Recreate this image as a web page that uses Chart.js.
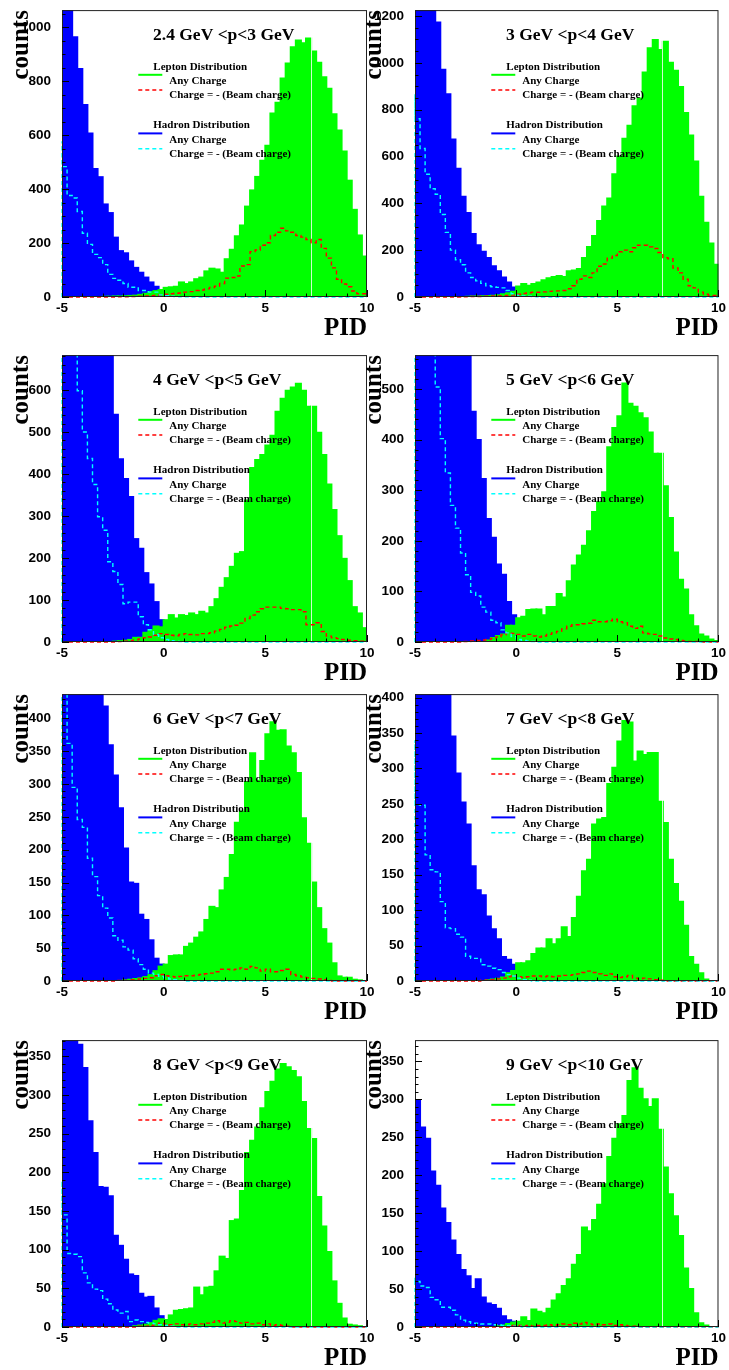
<!DOCTYPE html>
<html>
<head>
<meta charset="utf-8">
<script src="https://cdn.jsdelivr.net/npm/chart.js@4.4.1/dist/chart.umd.min.js"></script>
<style>
  body { margin: 0; background: #fff; width: 729px; height: 1370px; overflow: hidden; position: relative; }
  canvas { position: absolute; }
</style>
</head>
<body>
<script>
// momentum bins, one panel each
const titles = ['2.4 GeV <p<3 GeV', '3 GeV <p<4 GeV', '4 GeV <p<5 GeV', '5 GeV <p<6 GeV',
                '6 GeV <p<7 GeV', '7 GeV <p<8 GeV', '8 GeV <p<9 GeV', '9 GeV <p<10 GeV'];
const yMax   = [1063, 1225, 683, 567, 437, 405, 371, 378];
const yStep  = [200, 200, 100, 100, 50, 50, 50, 50];
const yMinor = [50, 50, 20, 20, 10, 10, 10, 10];
const xTicks = [-5, 0, 5, 10];

// PID histogram: 60 bins of 0.25 from -5 to 10
const BIN0 = -5, BINW = 0.25;
const cutX = 7.23;

// hadron distribution, any charge (blue, filled)
const hadronAny = [
  [1300,1080,962,845,711,606,474,444,343,311, 220,170,162,132,108,90,72,54,38,26, 12,8,5,3,2,1,1,0,0,0, 0,0,0,0,0,0,0,0,0,0, 0,0,0,0,0,0,0,0,0,0, 0,0,0,0,0,0,0,0,0,0],
  [1500,1400,1300,1250,1172,970,866,673,548,428, 359,269,221,193,166,131,110,83,62,41, 25,12,6,3,2,1,0,0,0,0, 0,0,0,0,0,0,0,0,0,0, 0,0,0,0,0,0,0,0,0,0, 0,0,0,0,0,0,0,0,0,0],
  [2200,2000,1800,1600,1400,1200,1050,900,800,720, 541,435,388,345,245,222,164,137,95,52, 28,12,6,3,2,1,0,0,0,0, 0,0,0,0,0,0,0,0,0,0, 0,0,0,0,0,0,0,0,0,0, 0,0,0,0,0,0,0,0,0,0],
  [2000,1700,1500,1300,1100,950,850,760,700,650, 600,455,399,322,243,206,153,133,79,53, 30,15,8,4,2,1,0,0,0,0, 0,0,0,0,0,0,0,0,0,0, 0,0,0,0,0,0,0,0,0,0, 0,0,0,0,0,0,0,0,0,0],
  [1400,1200,1000,850,720,600,520,470,418,359, 313,263,202,150,148,101,93,62,34,25, 12,6,3,2,1,0,0,0,0,0, 0,0,0,0,0,0,0,0,0,0, 0,0,0,0,0,0,0,0,0,0, 0,0,0,0,0,0,0,0,0,0],
  [1200,1000,850,720,600,520,450,345,293,252, 221,162,128,121,91,73,59,34,30,23, 16,11,6,3,2,1,0,0,0,0, 0,0,0,0,0,0,0,0,0,0, 0,0,0,0,0,0,0,0,0,0, 0,0,0,0,0,0,0,0,0,0],
  [480,430,390,365,335,266,225,181,180,169, 118,105,87,68,66,43,38,39,24,14, 9,5,3,2,1,0,0,0,0,0, 0,0,0,0,0,0,0,0,0,0, 0,0,0,0,0,0,0,0,0,0, 0,0,0,0,0,0,0,0,0,0],
  [299,263,248,205,186,156,137,114,95,75, 67,50,63,39,31,29,24,14,9,7, 5,3,2,1,0,0,0,0,0,0, 0,0,0,0,0,0,0,0,0,0, 0,0,0,0,0,0,0,0,0,0, 0,0,0,0,0,0,0,0,0,0]
];

// hadron distribution, charge = -(beam charge) (cyan, dashed)
const hadronOpp = [
  [577,483,376,367,317,236,195,158,146,120, 84,69,62,50,36,36,24,24,18,18, 8,5,3,2,1,1,0,0,0,0, 0,0,0,0,0,0,0,0,0,0, 0,0,0,0,0,0,0,0,0,0, 0,0,0,0,0,0,0,0,0,0],
  [866,761,634,524,462,439,352,276,200,159, 138,103,83,69,58,48,44,41,39,28, 14,8,5,3,2,1,0,0,0,0, 0,0,0,0,0,0,0,0,0,0, 0,0,0,0,0,0,0,0,0,0, 0,0,0,0,0,0,0,0,0,0],
  [1100,900,780,700,598,500,437,375,298,266, 191,168,137,91,95,95,60,41,29,18, 10,6,3,2,1,0,0,0,0,0, 0,0,0,0,0,0,0,0,0,0, 0,0,0,0,0,0,0,0,0,0, 0,0,0,0,0,0,0,0,0,0],
  [1200,1000,850,720,620,504,402,334,270,225, 176,133,98,91,69,59,43,38,24,18, 11,5,3,2,1,0,0,0,0,0, 0,0,0,0,0,0,0,0,0,0, 0,0,0,0,0,0,0,0,0,0, 0,0,0,0,0,0,0,0,0,0],
  [700,520,362,295,246,234,187,159,130,111, 96,69,62,52,47,34,25,18,12,10, 7,5,3,2,1,0,0,0,0,0, 0,0,0,0,0,0,0,0,0,0, 0,0,0,0,0,0,0,0,0,0, 0,0,0,0,0,0,0,0,0,0],
  [340,249,248,178,157,154,112,75,74,66, 62,35,32,32,23,21,18,16,12,9, 7,4,2,1,0,0,0,0,0,0, 0,0,0,0,0,0,0,0,0,0, 0,0,0,0,0,0,0,0,0,0, 0,0,0,0,0,0,0,0,0,0],
  [189,145,95,94,91,70,57,49,47,36, 30,22,18,20,7,9,7,6,5,4, 3,2,1,0,0,0,0,0,0,0, 0,0,0,0,0,0,0,0,0,0, 0,0,0,0,0,0,0,0,0,0, 0,0,0,0,0,0,0,0,0,0],
  [65,60,54,52,39,36,26,26,22,16, 9,7,5,5,4,4,3,3,2,2, 1,1,0,0,0,0,0,0,0,0, 0,0,0,0,0,0,0,0,0,0, 0,0,0,0,0,0,0,0,0,0, 0,0,0,0,0,0,0,0,0,0]
];

// lepton distribution, any charge (green, filled)
const leptonAny = [
  [0,0,0,0,0,0,0,0,1,1, 2,2,3,4,5,8,12,18,22,26, 34,36,38,54,48,54,66,72,95,105, 102,90,140,175,225,265,335,395,445,505, 560,680,720,810,865,925,950,940,958,910, 868,814,772,677,617,539,431,323,228,150],
  [0,0,0,0,0,0,0,0,0,0, 1,2,2,3,4,5,8,12,16,22, 45,55,48,55,62,72,80,85,90,85, 110,113,120,166,214,260,324,386,421,524, 600,676,731,814,848,959,1062,1097,1055,1090, 1000,966,897,786,690,579,428,317,228,138],
  [0,0,0,0,0,0,0,0,0,0, 1,2,3,5,10,10,22,28,37,35, 52,64,56,64,62,68,64,72,68,83, 102,129,152,179,210,214,337,414,433,445, 468,491,548,579,598,606,615,598,560,560, 498,445,375,314,252,198,145,83,68,33],
  [0,0,0,0,0,0,0,0,0,0, 0,0,0,0,3,8,12,15,32,32, 47,50,63,64,64,53,69,69,95,88, 120,151,171,190,219,257,276,296,385,423, 446,511,471,465,452,442,414,372,372,308, 245,177,123,104,53,31,15,11,5,2],
  [0,0,0,0,0,0,0,0,0,0, 0,0,1,2,3,4,6,9,15,22, 25,38,39,39,52,57,66,74,93,113, 111,138,157,192,241,258,303,347,305,335, 376,394,381,382,357,347,317,248,209,150, 111,79,57,27,7,5,5,2,1,0],
  [0,0,0,0,0,0,0,0,0,0, 0,0,0,0,1,2,3,5,11,14, 25,25,28,38,46,46,59,52,59,76, 62,89,119,155,171,221,228,230,278,301, 338,367,365,310,324,319,322,322,253,223, 171,137,112,78,34,23,11,2,0,0],
  [0,0,0,0,0,0,0,0,0,0, 0,0,0,0,1,2,3,5,8,10, 9,15,21,22,23,24,51,41,51,52, 72,91,88,137,139,176,225,241,258,283, 304,317,333,340,336,331,323,291,256,243, 168,130,97,59,30,11,3,2,1,0],
  [0,0,0,0,0,0,0,0,0,0, 0,0,0,0,0,0,1,2,4,6, 7,13,8,23,20,18,24,35,43,54, 63,82,95,131,126,141,161,188,224,248, 267,278,324,341,314,300,290,300,260,210, 175,146,120,77,50,18,5,2,0,0]
];

// lepton distribution, charge = -(beam charge) (red, dashed)
const leptonOpp = [
  [0,0,0,0,0,0,0,0,0,0, 0,0,1,1,2,2,3,4,5,6, 8,10,12,14,15,18,20,24,26,30, 35,40,50,70,72,78,115,120,168,174, 192,201,228,240,255,245,240,228,222,213, 201,213,180,144,108,66,48,38,22,12],
  [0,0,0,0,0,0,0,0,0,0, 1,1,2,2,3,3,4,5,6,7, 8,12,15,18,20,20,22,24,25,26, 28,35,48,76,90,83,103,131,141,166, 177,193,200,193,210,221,221,214,207,190, 168,163,124,103,76,48,39,21,12,7],
  [0,0,0,0,0,0,0,0,0,0, 0,0,1,2,3,5,7,10,12,16, 20,18,16,15,18,20,18,17,20,20, 22,26,30,35,38,40,45,56,64,72, 79,83,83,83,80,79,77,77,72,41, 41,46,25,14,10,8,6,4,3,2],
  [0,0,0,0,0,0,0,0,0,0, 1,1,2,3,4,5,7,10,14,18, 17,15,12,15,12,10,12,15,18,21, 26,31,34,34,36,37,43,40,40,42, 45,40,38,31,27,31,18,16,15,12, 8,6,5,3,2,1,1,0,0,0],
  [0,0,0,0,0,0,0,0,0,0, 0,0,1,1,2,2,3,4,5,8, 10,8,7,6,7,8,8,9,10,11, 12,14,18,18,17,18,20,18,22,20, 15,18,14,14,16,18,10,8,6,5, 4,3,2,1,0,0,0,0,0,0],
  [0,0,0,0,0,0,0,0,0,0, 0,0,0,0,1,1,2,3,4,6, 8,6,5,6,7,7,6,7,6,7, 8,8,9,10,12,14,12,10,8,10, 6,5,6,8,4,3,4,3,2,1, 0,0,0,0,0,0,0,0,0,0],
  [0,0,0,0,0,0,0,0,0,0, 0,0,0,0,0,0,1,1,2,3, 5,4,3,4,3,3,4,3,4,5, 6,8,5,6,8,7,5,6,4,5, 3,4,2,3,2,1,0,0,0,0, 0,0,0,0,0,0,0,0,0,0],
  [0,0,0,0,0,0,0,0,0,0, 0,0,0,0,0,0,0,0,0,0, 2,2,1,2,1,2,2,3,2,3, 4,3,5,4,6,4,3,4,3,4, 2,3,2,1,1,0,0,0,0,0, 0,0,0,0,0,0,0,0,0,0]
];

const GREEN = '#00ff00', BLUE = '#0000ff', RED = '#ff0000', CYAN = '#00ffff';

// page placement of the 2 x 4 grid
const colLeft = [0, 365], colWidth = [380, 364], axisW = [62, 50], padRight = [13, 10];
const rowTop = [-9, 336, 675, 1021];
const canvasH = 346;

function barPoints(vals) {
  return vals.map((v, i) => ({ x: BIN0 + BINW * (i + 0.5), y: v }));
}

function stepPoints(vals) {
  const end = BIN0 + BINW * vals.length;
  const pts = [{ x: BIN0, y: 0 }];
  vals.forEach((v, i) => pts.push({ x: BIN0 + BINW * i, y: v }));
  pts.push({ x: end, y: vals[vals.length - 1] });
  pts.push({ x: end, y: 0 });
  return pts;
}

Chart.defaults.font.family = '"Liberation Sans", Arial, sans-serif';

const deco = {
  id: 'deco',
  afterDatasetDraw(chart, args) {
    if (args.index !== 1) return;
    const { ctx, chartArea: a, scales: { x } } = chart;
    const px = Math.round(x.getPixelForValue(cutX)) + 0.5;
    ctx.save();
    ctx.strokeStyle = 'rgba(255,255,255,0.8)';
    ctx.lineWidth = 1;
    ctx.beginPath();
    ctx.moveTo(px, a.top);
    ctx.lineTo(px, a.bottom);
    ctx.stroke();
    ctx.restore();
  },
  afterDraw(chart, args, opts) {
    const p = opts.panel;
    const { ctx, chartArea: a, scales: { x, y } } = chart;
    const L = a.left, T = a.top;
    ctx.save();

    // frame
    ctx.strokeStyle = '#222';
    ctx.lineWidth = 1;
    ctx.strokeRect(a.left + 0.5, a.top + 0.5, a.width - 1, a.height - 1);

    // inward tick marks
    ctx.strokeStyle = '#000';
    ctx.beginPath();
    for (let v = -5; v <= 10; v += 1) {
      const px = Math.round(x.getPixelForValue(v)) + 0.5;
      const len = v % 5 === 0 ? 7 : 3.5;
      ctx.moveTo(px, a.bottom);
      ctx.lineTo(px, a.bottom - len);
    }
    for (let v = 0; v <= yMax[p]; v += yMinor[p]) {
      const py = Math.round(y.getPixelForValue(v)) + 0.5;
      const len = v % yStep[p] === 0 ? 7 : 3.5;
      ctx.moveTo(a.left, py);
      ctx.lineTo(a.left + len, py);
    }
    ctx.stroke();

    // title
    ctx.fillStyle = '#000';
    ctx.textAlign = 'left';
    ctx.textBaseline = 'alphabetic';
    ctx.font = 'bold 17.5px "Liberation Serif", serif';
    ctx.fillText(titles[p], L + 91, T + 30);

    // legend
    ctx.font = 'bold 11px "Liberation Serif", serif';
    const heads = [['Lepton Distribution', GREEN, RED, 0], ['Hadron Distribution', BLUE, CYAN, 58.6]];
    heads.forEach(([head, solid, dashed, dy]) => {
      ctx.fillText(head, L + 91.3, T + 59.7 + dy);
      ctx.fillText('Any Charge', L + 107.3, T + 74 + dy);
      ctx.fillText('Charge = - (Beam charge)', L + 107.3, T + 88.3 + dy);
      ctx.strokeStyle = solid;
      ctx.lineWidth = 2;
      ctx.setLineDash([]);
      ctx.beginPath();
      ctx.moveTo(L + 76.3, T + 64.7 + dy);
      ctx.lineTo(L + 100.3, T + 64.7 + dy);
      ctx.stroke();
      ctx.strokeStyle = dashed;
      ctx.lineWidth = 1.5;
      ctx.setLineDash([4, 3]);
      ctx.beginPath();
      ctx.moveTo(L + 76.3, T + 80 + dy);
      ctx.lineTo(L + 100.3, T + 80 + dy);
      ctx.stroke();
    });
    ctx.setLineDash([]);

    // axis titles
    ctx.font = 'bold 25px "Liberation Serif", serif';
    ctx.textAlign = 'right';
    ctx.fillText('PID', a.right, a.bottom + 38);
    ctx.save();
    ctx.translate(L - 34, T);
    ctx.rotate(-Math.PI / 2);
    ctx.fillText('counts', 0, 0);
    ctx.restore();

    ctx.restore();
  }
};
Chart.register(deco);

const tickFont = { family: '"Liberation Sans", Arial, sans-serif', weight: 'bold', size: 13.5 };

for (let p = 0; p < 8; p++) {
  const col = p % 2, row = Math.floor(p / 2);
  const cv = document.createElement('canvas');
  cv.width = colWidth[col];
  cv.height = canvasH;
  cv.style.left = colLeft[col] + 'px';
  cv.style.top = rowTop[row] + 'px';
  document.body.appendChild(cv);

  new Chart(cv.getContext('2d'), {
    type: 'bar',
    data: {
      datasets: [
        { type: 'bar', data: barPoints(hadronAny[p]), backgroundColor: BLUE, borderWidth: 0,
          barPercentage: 1, categoryPercentage: 1, inflateAmount: 1, grouped: false, order: 3, clip: 0 },
        { type: 'bar', data: barPoints(leptonAny[p]), backgroundColor: GREEN, borderWidth: 0,
          barPercentage: 1, categoryPercentage: 1, inflateAmount: 1, grouped: false, order: 2, clip: 0 },
        { type: 'line', data: stepPoints(leptonOpp[p]), borderColor: RED, borderWidth: 1.4,
          borderDash: [4, 3], pointRadius: 0, stepped: 'after', fill: false, order: 1,
          clip: { left: 2, right: 2, top: 0, bottom: 2 } },
        { type: 'line', data: stepPoints(hadronOpp[p]), borderColor: CYAN, borderWidth: 1.4,
          borderDash: [4, 3], pointRadius: 0, stepped: 'after', fill: false, order: 0,
          clip: { left: 2, right: 2, top: 0, bottom: 2 } }
      ]
    },
    options: {
      responsive: false,
      animation: false,
      events: [],
      layout: { padding: { top: 10, right: padRight[col], left: 0, bottom: 0 } },
      plugins: {
        legend: { display: false },
        tooltip: { enabled: false },
        deco: { panel: p }
      },
      scales: {
        x: {
          type: 'linear', min: -5, max: 10, offset: false,
          grid: { display: false, drawTicks: false },
          border: { display: false },
          afterBuildTicks: s => { s.ticks = xTicks.map(v => ({ value: v })); },
          ticks: { color: '#000', font: tickFont, padding: 3, maxRotation: 0, autoSkip: false,
                   callback: v => String(v) },
          afterFit: s => { s.height = 40; }
        },
        y: {
          type: 'linear', min: 0, max: yMax[p],
          grid: { display: false, drawTicks: false },
          border: { display: false },
          afterBuildTicks: s => {
            const t = [];
            for (let v = 0; v <= yMax[p]; v += yStep[p]) t.push({ value: v });
            s.ticks = t;
          },
          ticks: { color: '#000', font: tickFont, padding: 11, autoSkip: false,
                   callback: v => String(v) },
          afterFit: s => { s.width = axisW[col]; }
        }
      }
    }
  });
}
</script>
</body>
</html>
